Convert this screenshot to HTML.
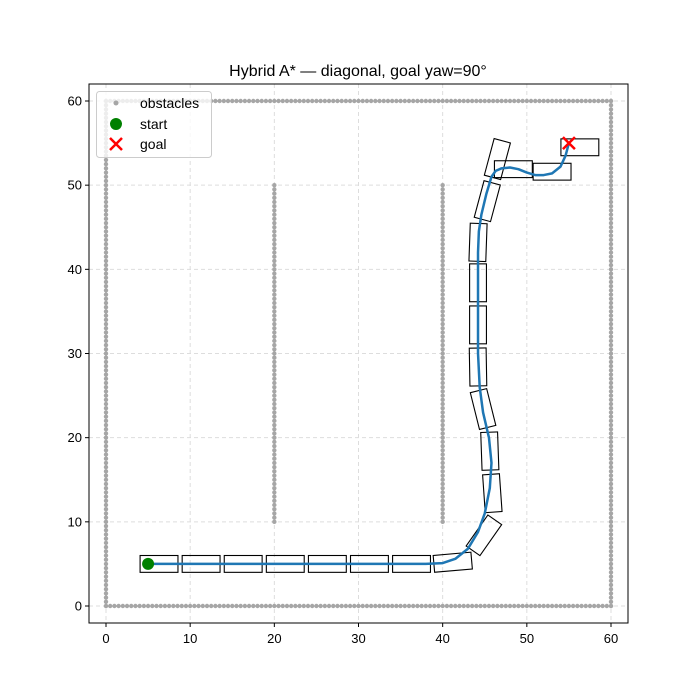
<!DOCTYPE html>
<html><head><meta charset="utf-8"><style>
body{margin:0;background:#fff;font-family:"Liberation Sans","DejaVu Sans",sans-serif}
svg{display:block}
</style></head><body>
<svg id="chart" width="700" height="700" viewBox="0 0 700 700" xmlns="http://www.w3.org/2000/svg">
<text x="358" y="76" text-anchor="middle" font-size="16" fill="#000">Hybrid A* — diagonal, goal yaw=90°</text>
<g id="grid"></g>
<g id="obs"></g>
<g id="rects"></g>
<g id="pathg"></g>
<g id="marks"></g>
<rect x="89" y="84" width="539" height="539" fill="none" stroke="#000" stroke-width="1"/>
<g id="ticks"></g>
<g>
<rect x="96.5" y="91.5" width="115" height="66" rx="3" fill="#fff" fill-opacity="0.8" stroke="#ccc"/>
<circle cx="116" cy="103" r="2.5" fill="#a6a6a6"/>
<text x="140" y="108" font-size="14">obstacles</text>
<circle cx="116" cy="124" r="6" fill="green"/>
<text x="140" y="129" font-size="14">start</text>
<path d="M110 138 L122 150 M122 138 L110 150" stroke="red" stroke-width="2.5"/>
<text x="140" y="149" font-size="14">goal</text>
</g>
</svg>
<script>
const xTicks=[0,10,20,30,40,50,60];
const yTicks=[0,10,20,30,40,50,60];
const pathX=[5,10,20,30,38,40,41.5,43,44.2,45,45.6,45.8,45.5,44.8,44.4,44.2,44.2,44.2,44.2,44.3,44.6,45.2,45.8,46.3,47,48,49,50,51,52,53,54,54.6,55];
const pathY=[5,5,5,5,5,5.1,5.6,6.8,8.8,11,14,17,20,23,26,30,34,38,42,44.5,46.5,49,51,51.7,52,52.1,51.9,51.5,51.2,51.2,51.4,52.2,53.5,55];
const poseX=[6.3,11.3,16.3,21.3,26.3,31.3,36.3,41.2,44.9,45.9,45.6,44.8,44.2,44.2,44.2,44.2,45.3,46.5,48.4,53,56.3];
const poseY=[5,5,5,5,5,5,5,5.2,8.4,13.4,18.4,23.4,28.4,33.4,38.4,43.2,48.1,53.1,51.9,51.6,54.5];
const poseYaw=[0,0,0,0,0,0,0,5,55,94,92,104,91,90,90,88,75,75,0,0,0];
const startPt=[5,5], goalPt=[55,55];
const sx=v=>106+v*8.4167, sy=v=>606-v*8.4167;
const NS='http://www.w3.org/2000/svg';
function mk(tag,attrs,parent){const e=document.createElementNS(NS,tag);for(const k in attrs)e.setAttribute(k,attrs[k]);parent.appendChild(e);return e;}
const grid=document.getElementById('grid'),ticks=document.getElementById('ticks');
xTicks.forEach(t=>{
 const g=mk('line',{x1:sx(t),x2:sx(t),y1:84,y2:623,stroke:'#ddd','stroke-dasharray':'4,3'},grid);
 
 
 const l=mk('line',{x1:sx(t),x2:sx(t),y1:623,y2:627,stroke:'#000'},ticks);
 
 
 const tx=mk('text',{x:sx(t),y:643,'text-anchor':'middle','font-size':'13'},ticks);tx.textContent=t;
 
 
});
yTicks.forEach(t=>{
 const g=mk('line',{y1:sy(t),y2:sy(t),x1:89,x2:628,stroke:'#ddd','stroke-dasharray':'4,3'},grid);
 
 
 const l=mk('line',{y1:sy(t),y2:sy(t),x1:85,x2:89,stroke:'#000'},ticks);
 
 
 const tx=mk('text',{x:82,y:sy(t)+4.5,'text-anchor':'end','font-size':'13'},ticks);tx.textContent=t;
 
 
});
const obs=document.getElementById('obs');
function dot(x,y){const c=mk('circle',{cx:sx(x),cy:sy(y),r:2.2,fill:'#a6a6a6'},obs);
 
 }
for(let v=0;v<=60;v+=0.5){dot(v,0);dot(v,60);dot(0,v);dot(60,v);}
for(let v=10;v<=50;v+=0.5){dot(20,v);dot(40,v);}
const rects=document.getElementById('rects');
const k=8.4167;
poseX.forEach((x,i)=>{
 const r=mk('rect',{x:-2.25*k,y:-1*k,width:4.5*k,height:2*k,fill:'none',stroke:'#000','stroke-width':1.1,
  transform:`translate(${sx(x)},${sy(poseY[i])}) rotate(${-poseYaw[i]})`},rects);
 
 
});
const p=mk('polyline',{points:pathX.map((x,i)=>sx(x)+','+sy(pathY[i])).join(' '),fill:'none',stroke:'#1f77b4','stroke-width':2.5,'stroke-linejoin':'round'},document.getElementById('pathg'));


const marks=document.getElementById('marks');
const s=mk('circle',{cx:sx(startPt[0]),cy:sy(startPt[1]),r:6,fill:'green'},marks);


const gx=sx(goalPt[0]),gy=sy(goalPt[1]);
const g=mk('path',{d:`M${gx-6} ${gy-6} L${gx+6} ${gy+6} M${gx+6} ${gy-6} L${gx-6} ${gy+6}`,stroke:'red','stroke-width':2.5},marks);


</script>
</body></html>
